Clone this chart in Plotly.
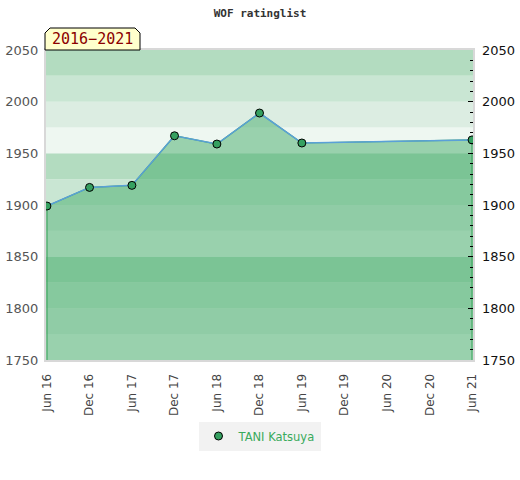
import plotly.graph_objects as go

dates = ["2016-06-01", "2016-12-01", "2017-06-01", "2017-12-01", "2018-06-01",
         "2018-12-01", "2019-06-01", "2021-06-01"]
ratings = [1899, 1917, 1919, 1967, 1959, 1989, 1960, 1963]
player = "TANI Katsuya"
period_label = "2016\u22122021"
title = "WOF ratinglist"

y_min, y_max = 1750, 2050
band_step = 25
band_colors = ["#eef7f1", "#dcede2", "#c9e6d3", "#b3dcc0"]

fig = go.Figure()

# background bands
shapes = []
v = y_min
i = 0
while v < y_max:
    shapes.append(dict(type="rect", xref="paper", yref="y", x0=0, x1=1, y0=v, y1=v + band_step,
                       fillcolor=band_colors[i % 4], line=dict(width=0), layer="below"))
    v += band_step
    i += 1

# label box with clipped corners (paper coords)
W, H = 520, 480
ml, mr, mt, mb = 46, 47, 50, 120
pw, ph = W - ml - mr, H - mt - mb
def px(x):
    return (x - ml) / pw
def py(y):
    return (H - mb - y) / ph
x0, x1, yb, yt, c = px(45), px(140), py(50), py(28), 5
path = (f"M {x0},{yb} L {x0},{py(28 + c)} L {px(45 + c)},{yt} L {px(140 - c)},{yt} "
        f"L {x1},{py(28 + c)} L {x1},{yb} Z")
shapes.append(dict(type="path", xref="paper", yref="paper", path=path,
                   fillcolor="#ffffcc", line=dict(color="black", width=1)))

# filled area
fig.add_trace(go.Scatter(
    x=[dates[0]] + dates + [dates[-1]],
    y=[y_min] + ratings + [y_min],
    fill="toself", fillcolor="rgba(68,171,106,0.5)",
    line=dict(color="#3aa35c", width=1.2), mode="lines",
    hoverinfo="skip", showlegend=False))

# line
fig.add_trace(go.Scatter(
    x=dates, y=ratings, mode="lines",
    line=dict(color="#5aa0d8", width=1.5), showlegend=False, hoverinfo="skip"))

# markers
fig.add_trace(go.Scatter(
    x=dates, y=ratings, mode="markers", name=player,
    marker=dict(color="#35a060", size=8, line=dict(color="black", width=1))))

# dummy trace for right axis
fig.add_trace(go.Scatter(x=[dates[0]], y=[ratings[0]], yaxis="y2", mode="markers",
                         marker=dict(opacity=0), showlegend=False, hoverinfo="skip"))

fig.update_layout(
    width=W, height=H,
    margin=dict(l=ml, r=mr, t=mt, b=mb, autoexpand=False),
    paper_bgcolor="white", plot_bgcolor="white",
    title=dict(text=f"<b>{title}</b>", x=0.5, xanchor="center", y=1 - 13 / H, yanchor="middle",
               font=dict(family="DejaVu Sans Mono", size=11, color="#333333")),
    xaxis=dict(type="date", range=["2016-05-28", "2021-06-05"],
               tick0="2016-06-01", dtick="M6", tickformat="%b %y", tickangle=-90,
               tickfont=dict(family="DejaVu Sans", size=12, color="#444444"),
               ticklabelstandoff=7,
               showgrid=False, zeroline=False, showline=True, linecolor="#d8d8d8",
               linewidth=2, mirror=True, ticks=""),
    yaxis=dict(range=[y_min, y_max], dtick=50, showgrid=False, zeroline=False,
               tickfont=dict(family="DejaVu Sans", size=13, color="#555555"),
               ticklabelstandoff=3,
               showline=True, linecolor="#d8d8d8", linewidth=2, mirror=True, ticks=""),
    yaxis2=dict(range=[y_min, y_max], dtick=50, overlaying="y", side="right",
                showgrid=False, zeroline=False,
                tickfont=dict(family="DejaVu Sans", size=13, color="#111111"),
                ticks="inside", ticklen=5, tickcolor="black", tickwidth=1,
                ticklabelstandoff=8,
                minor=dict(dtick=10, ticks="inside", ticklen=3, tickcolor="black", tickwidth=1)),
    legend=dict(orientation="h", x=0.5, xanchor="center", y=py(436), yanchor="middle",
                bgcolor="#f2f2f2", itemwidth=30,
                font=dict(family="DejaVu Sans", size=11.5, color="#3aaa5c")),
    shapes=shapes,
    annotations=[dict(text=period_label, xref="paper", yref="paper",
                      x=(x0 + x1) / 2, y=(yb + yt) / 2, xanchor="center", yanchor="middle",
                      showarrow=False,
                      font=dict(family="DejaVu Sans Mono", size=15, color="#8b0000"))],
)

fig.write_html("out.html", post_script="document.body.style.margin='0';",
               config={"displayModeBar": False})
